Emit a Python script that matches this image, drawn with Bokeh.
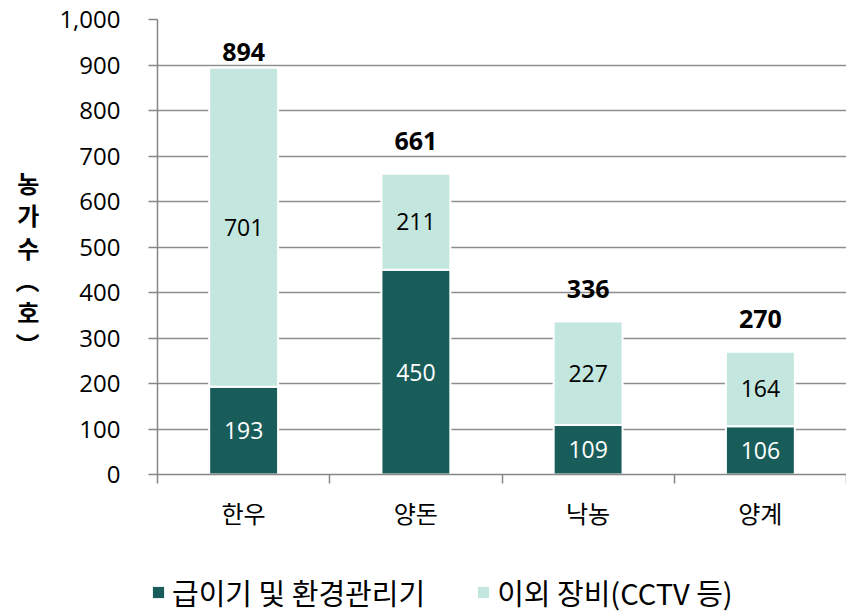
from bokeh.plotting import figure
from bokeh.layouts import column, row
from bokeh.models import (Range1d, FixedTicker, NumeralTickFormatter, LinearAxis, Grid,
                          ColumnDataSource, LabelSet, Legend, LegendItem)
from bokeh.core.properties import value
from bokeh.embed import file_html
from bokeh.resources import INLINE

categories = ["한우", "양돈", "낙농", "양계"]
feed_env = [193, 450, 109, 106]
other_equip = [701, 211, 227, 164]
series_names = ["급이기 및 환경관리기", "이외 장비(CCTV 등)"]
y_ticks = [0, 100, 200, 300, 400, 500, 600, 700, 800, 900, 1000]
y_title_chars = ["농", "가", "수", "︵", "호", "︶"]

DARK = "#195d5a"
LIGHT = "#c3e6df"
AXIS = "#868686"
GRID = "#8e8e8e"

xs = [i + 0.5 for i in range(len(categories))]
totals = [a + b for a, b in zip(feed_env, other_equip)]
src = ColumnDataSource(dict(
    x=xs, feed=feed_env, other=other_equip,
    mid1=[a / 2 for a in feed_env],
    mid2=[a + b / 2 for a, b in zip(feed_env, other_equip)],
    total_pos=[min(t + 72, 928) for t in totals],
    t1=[str(a) for a in feed_env],
    t2=[str(b) for b in other_equip],
    tt=[str(t) for t in totals],
))

p = figure(width=846, height=550, x_range=Range1d(0, len(categories)), y_range=Range1d(0, 1000),
           output_backend="svg", toolbar_location=None,
           x_axis_location=None, y_axis_location=None,
           min_border_left=157, min_border_right=0, min_border_top=19, min_border_bottom=76)
p.outline_line_color = None
p.background_fill_color = "white"
for g in p.grid:
    g.visible = False

yaxis = LinearAxis(ticker=FixedTicker(ticks=y_ticks), formatter=NumeralTickFormatter(format="0,0"),
                   axis_line_color=AXIS, axis_line_width=1.5,
                   major_tick_line_color=AXIS, major_tick_line_width=1.5,
                   major_tick_in=0, major_tick_out=9, minor_tick_line_color=None,
                   major_label_standoff=28,
                   major_label_text_font="Open Sans", major_label_text_font_size="24px",
                   major_label_text_color="black",
                   axis_label="\n".join([" "] + y_title_chars), axis_label_standoff=17,
                   axis_label_text_font="Noto Sans CJK KR", axis_label_text_font_style="bold",
                   axis_label_text_font_size="24px", axis_label_text_color="black",
                   axis_label_text_line_height=0.92)
try:
    yaxis.axis_label_orientation = "horizontal"
except Exception:
    pass
p.add_layout(yaxis, "left")

xaxis = LinearAxis(ticker=FixedTicker(ticks=xs, minor_ticks=list(range(len(categories) + 1))),
                   major_label_overrides={x: c for x, c in zip(xs, categories)},
                   axis_line_color=AXIS, axis_line_width=1.5,
                   major_tick_line_color=None, major_tick_in=0, major_tick_out=0,
                   minor_tick_line_color=AXIS, minor_tick_line_width=1.5,
                   minor_tick_in=0, minor_tick_out=9,
                   major_label_standoff=11,
                   major_label_text_font="Noto Sans CJK KR", major_label_text_font_size="24px",
                   major_label_text_color="black")
p.add_layout(xaxis, "below")

p.add_layout(Grid(dimension=1, ticker=yaxis.ticker, grid_line_color=GRID, grid_line_width=1.5))

rs = p.vbar_stack(["feed", "other"], x="x", width=0.4, source=src,
                  fill_color=[DARK, LIGHT], line_color="white", line_width=2)

p.add_layout(LabelSet(x="x", y="mid1", text="t1", source=src, text_align="center",
                      text_baseline="middle", text_color="white",
                      text_font=value("Open Sans"), text_font_size=value("23px")))
p.add_layout(LabelSet(x="x", y="mid2", text="t2", source=src, text_align="center",
                      text_baseline="middle", text_color="black",
                      text_font=value("Open Sans"), text_font_size=value("23px")))
p.add_layout(LabelSet(x="x", y="total_pos", text="tt", source=src, text_align="center",
                      text_baseline="middle", text_color="black",
                      text_font=value("Open Sans"), text_font_style=value("bold"),
                      text_font_size=value("25px")))

# legend strip (its swatch renderers have zero height, so only the legend shows)
q = figure(width=846, height=63, x_range=Range1d(0, 1), y_range=Range1d(0, 1),
           output_backend="svg", toolbar_location=None,
           x_axis_location=None, y_axis_location=None, min_border=0)
q.outline_line_color = None
for g in q.grid:
    g.visible = False
r1 = q.vbar(x=[0.5], top=[0], bottom=[0], width=0.0, fill_color=DARK, line_color=None)
r2 = q.vbar(x=[0.5], top=[0], bottom=[0], width=0.0, fill_color=LIGHT, line_color=None)
legend = Legend(items=[LegendItem(label=series_names[0], renderers=[r1]),
                       LegendItem(label=series_names[1], renderers=[r2])],
                location=(151, 0), orientation="horizontal",
                border_line_color=None, background_fill_alpha=0,
                glyph_width=14, glyph_height=14, label_standoff=7, spacing=51,
                padding=0, margin=0,
                label_text_font="Noto Sans CJK KR", label_text_font_size="29px",
                label_text_color="black")
q.add_layout(legend, "center")

open("out.html", "w").write(file_html(column(p, row(q)), INLINE))
